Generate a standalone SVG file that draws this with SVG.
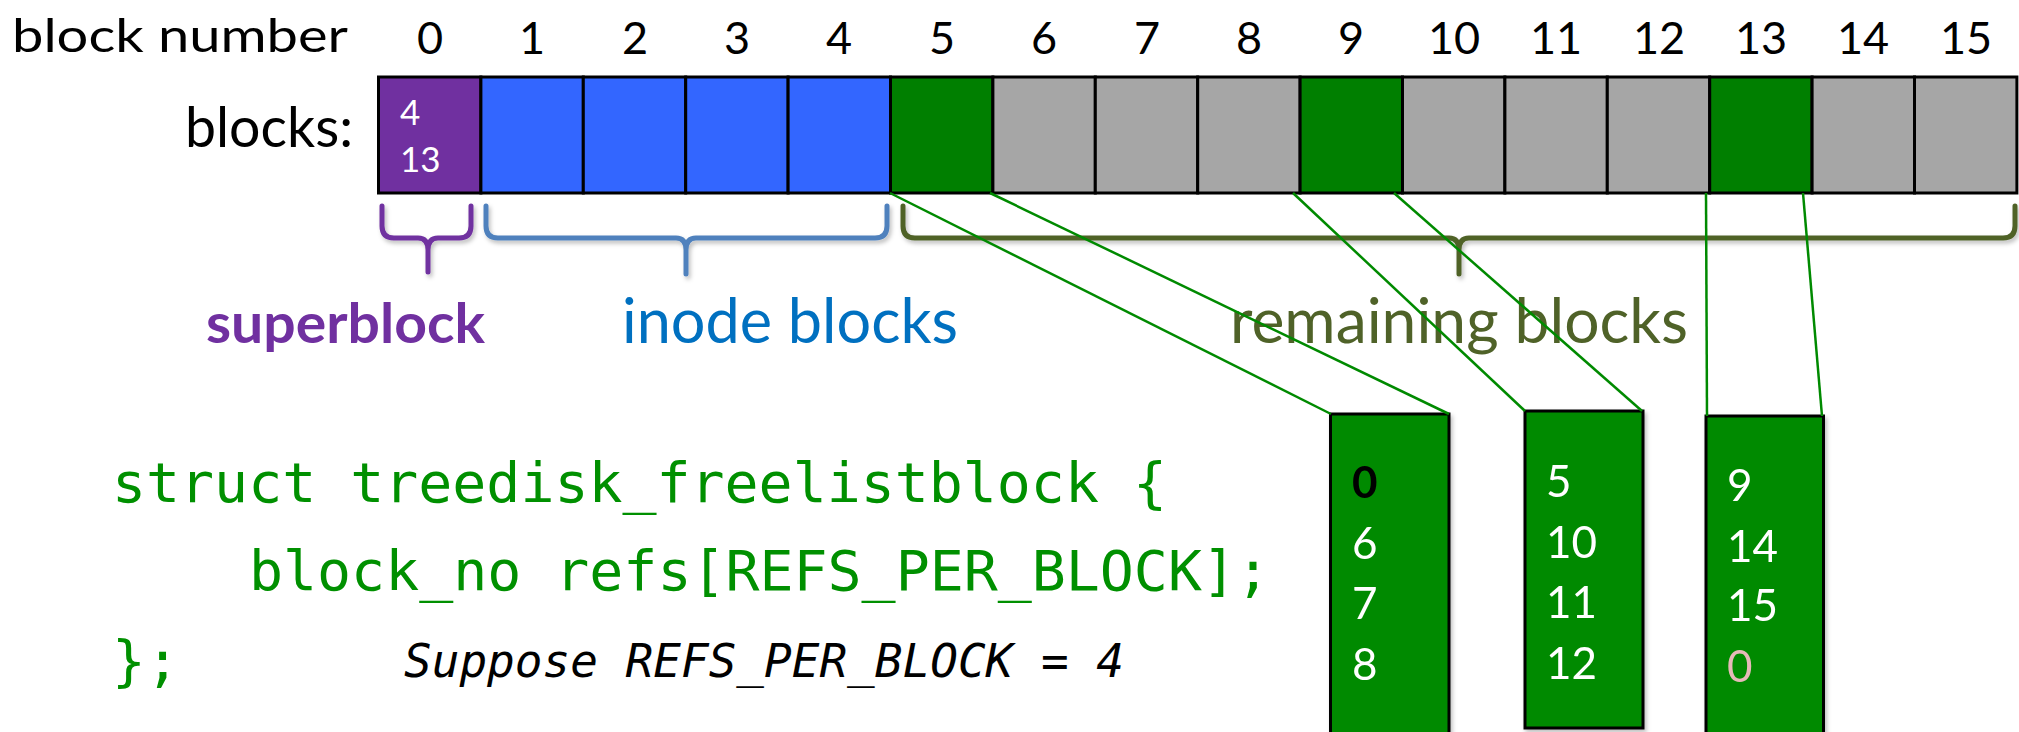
<svg xmlns="http://www.w3.org/2000/svg" width="2019" height="732" viewBox="0 0 2019 732">
  <style>
    .lbl { font-family: Lato, "Open Sans", sans-serif; }
    .num { font-family: Lato, "Open Sans", sans-serif; font-size: 45px; fill: #000; text-anchor: middle; }
    .blk { stroke: #000; stroke-width: 3; }
    .free { fill: #007F00; }
    .used { fill: #A6A6A6; }
    .inode { fill: #3366FF; }
    .super { fill: #7030A0; }
    .listbox { fill: #008A00; stroke: #000; stroke-width: 3; }
    .boxnum { font-family: Lato, "Open Sans", sans-serif; font-size: 44px; fill: #FFFFFF; }
    .boxnum.end { fill: #000000; font-weight: bold; }
    .boxnum.nil { fill: #E6B9B8; }
    .brace { fill: none; stroke-width: 5; stroke-linecap: round; stroke-linejoin: round; }
    .link { stroke: #008A00; stroke-width: 2.5; fill: none; }
    .code { font-family: "DejaVu Sans Mono", "Liberation Mono", monospace; font-size: 56px; fill: #009000; }
  </style>
  <defs>
    <filter id="shadow" x="-10%" y="-10%" width="130%" height="140%">
      <feDropShadow dx="2" dy="3" stdDeviation="2" flood-color="#000" flood-opacity="0.25"/>
    </filter>
  </defs>

  <!-- header row -->
  <text class="lbl" x="12" y="52" font-size="46" textLength="336" lengthAdjust="spacingAndGlyphs">block number</text>
  <g id="block-numbers">
    <text class="num" x="430" y="54">0</text>
    <text class="num" x="532" y="54">1</text>
    <text class="num" x="635" y="54">2</text>
    <text class="num" x="737" y="54">3</text>
    <text class="num" x="839" y="54">4</text>
    <text class="num" x="942" y="54">5</text>
    <text class="num" x="1044" y="54">6</text>
    <text class="num" x="1147" y="54">7</text>
    <text class="num" x="1249" y="54">8</text>
    <text class="num" x="1351" y="54">9</text>
    <text class="num" x="1454" y="54">10</text>
    <text class="num" x="1556" y="54">11</text>
    <text class="num" x="1659" y="54">12</text>
    <text class="num" x="1761" y="54">13</text>
    <text class="num" x="1863" y="54">14</text>
    <text class="num" x="1966" y="54">15</text>
  </g>
  <text class="lbl" x="185" y="147" font-size="56" textLength="168" lengthAdjust="spacingAndGlyphs">blocks:</text>

  <!-- disk blocks 0..15 -->
  <g id="disk">
    <g id="block-0">
      <rect class="blk super" x="378.5" y="77" width="102.4" height="116"/>
      <text class="lbl" x="400" y="125" font-size="35" fill="#FFFFFF">4</text>
      <text class="lbl" x="400" y="172" font-size="35" fill="#FFFFFF">13</text>
    </g>
    <rect id="block-1" class="blk inode" x="480.9" y="77" width="102.4" height="116"/>
    <rect id="block-2" class="blk inode" x="583.3" y="77" width="102.4" height="116"/>
    <rect id="block-3" class="blk inode" x="685.7" y="77" width="102.4" height="116"/>
    <rect id="block-4" class="blk inode" x="788.1" y="77" width="102.4" height="116"/>
    <rect id="block-5" class="blk free" x="890.5" y="77" width="102.4" height="116"/>
    <rect id="block-6" class="blk used" x="992.9" y="77" width="102.4" height="116"/>
    <rect id="block-7" class="blk used" x="1095.3" y="77" width="102.4" height="116"/>
    <rect id="block-8" class="blk used" x="1197.7" y="77" width="102.4" height="116"/>
    <rect id="block-9" class="blk free" x="1300.1" y="77" width="102.4" height="116"/>
    <rect id="block-10" class="blk used" x="1402.5" y="77" width="102.4" height="116"/>
    <rect id="block-11" class="blk used" x="1504.9" y="77" width="102.4" height="116"/>
    <rect id="block-12" class="blk used" x="1607.3" y="77" width="102.4" height="116"/>
    <rect id="block-13" class="blk free" x="1709.7" y="77" width="102.4" height="116"/>
    <rect id="block-14" class="blk used" x="1812.1" y="77" width="102.4" height="116"/>
    <rect id="block-15" class="blk used" x="1914.5" y="77" width="102.4" height="116"/>
  </g>

  <!-- region braces and their labels -->
  <g id="superblock-brace" filter="url(#shadow)">
    <path class="brace" stroke="#7030A0" d="M382,206 V226 Q382,238 394,238 H418 Q428,238 428,250 V272 M471,206 V226 Q471,238 459,238 H438 Q428,238 428,250"/>
  </g>
  <text id="superblock-label" class="lbl" x="206" y="343" font-size="55" font-weight="bold" fill="#7030A0" textLength="279" lengthAdjust="spacingAndGlyphs">superblock</text>

  <g id="inode-brace" filter="url(#shadow)">
    <path class="brace" stroke="#4F81BD" d="M486,206 V226 Q486,238 498,238 H676 Q686,238 686,250 V274 M887,206 V226 Q887,238 875,238 H696 Q686,238 686,250"/>
  </g>
  <text id="inode-label" class="lbl" x="622" y="343" font-size="61" fill="#0070C0" textLength="336" lengthAdjust="spacingAndGlyphs">inode blocks</text>

  <g id="remaining-brace" filter="url(#shadow)">
    <path class="brace" stroke="#4F6228" d="M903,206 V226 Q903,238 915,238 H1449 Q1459,238 1459,250 V274 M2015,206 V226 Q2015,238 2003,238 H1469 Q1459,238 1459,250"/>
  </g>
  <text id="remaining-label" class="lbl" x="1230" y="343" font-size="61" fill="#4F6228" textLength="458" lengthAdjust="spacingAndGlyphs">remaining blocks</text>

  <!-- free-list blocks, drawn enlarged -->
  <g id="freelist-5" filter="url(#shadow)">
    <rect class="listbox" x="1330.5" y="414" width="118.5" height="330"/>
    <text class="boxnum end" x="1352" y="498">0</text>
    <text class="boxnum" x="1352" y="559">6</text>
    <text class="boxnum" x="1352" y="619">7</text>
    <text class="boxnum" x="1352" y="680">8</text>
  </g>
  <g id="freelist-9" filter="url(#shadow)">
    <rect class="listbox" x="1525" y="411" width="118" height="317"/>
    <text class="boxnum" x="1546" y="497">5</text>
    <text class="boxnum" x="1546" y="558">10</text>
    <text class="boxnum" x="1546" y="618">11</text>
    <text class="boxnum" x="1546" y="679">12</text>
  </g>
  <g id="freelist-13" filter="url(#shadow)">
    <rect class="listbox" x="1706" y="416" width="117.5" height="330"/>
    <text class="boxnum" x="1727" y="501">9</text>
    <text class="boxnum" x="1727" y="562">14</text>
    <text class="boxnum" x="1727" y="621">15</text>
    <text class="boxnum nil" x="1727" y="682">0</text>
  </g>

  <!-- connectors from disk blocks to their enlarged views -->
  <g id="connectors">
    <line class="link" x1="890" y1="193" x2="1331" y2="414"/>
    <line class="link" x1="990" y1="193" x2="1449" y2="414"/>
    <line class="link" x1="1293" y1="193" x2="1525" y2="411"/>
    <line class="link" x1="1394" y1="193" x2="1642" y2="411"/>
    <line class="link" x1="1706" y1="193" x2="1707" y2="416"/>
    <line class="link" x1="1803" y1="193" x2="1822" y2="416"/>
  </g>

  <!-- struct declaration -->
  <g id="code">
    <text class="code" x="112" y="502" textLength="1055" lengthAdjust="spacingAndGlyphs">struct treedisk_freelistblock {</text>
    <text class="code" x="249" y="590" textLength="1021" lengthAdjust="spacingAndGlyphs">block_no refs[REFS_PER_BLOCK];</text>
    <text class="code" x="112" y="680">};</text>
    <text x="404" y="677" font-family="'DejaVu Sans Mono', 'Liberation Mono', monospace" font-style="italic" font-size="46" fill="#000">Suppose REFS_PER_BLOCK = 4</text>
  </g>
</svg>
